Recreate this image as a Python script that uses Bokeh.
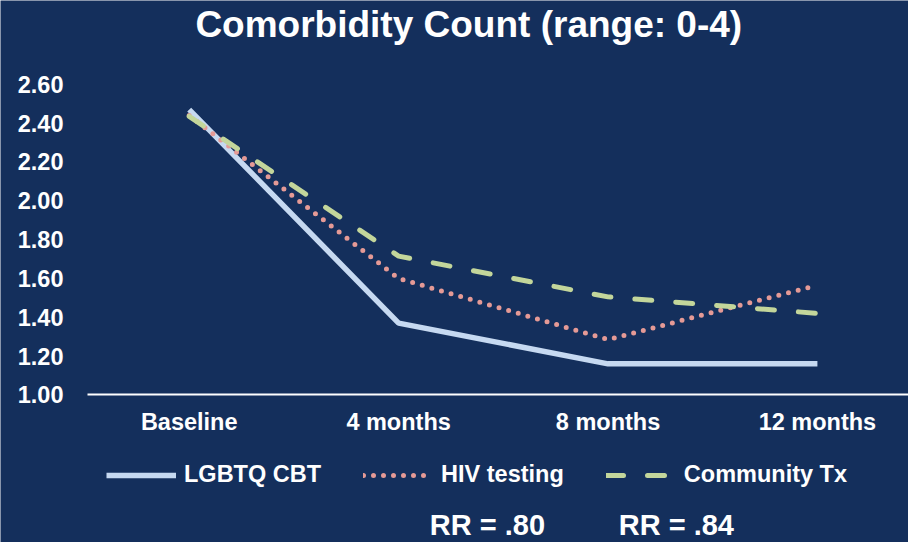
from bokeh.plotting import figure
from bokeh.models import (ColumnDataSource, FixedTicker, Legend, LegendItem,
                          Label, Range1d)
from bokeh.embed import file_html
from bokeh.resources import INLINE

categories = ["Baseline", "4 months", "8 months", "12 months"]
x_pos = [0, 1, 2, 3]
lgbtq_cbt = [2.47, 1.37, 1.16, 1.16]
hiv_testing = [2.44, 1.60, 1.285, 1.565]
community_tx = [2.435, 1.715, 1.505, 1.42]
y_ticks = [1.0, 1.2, 1.4, 1.6, 1.8, 2.0, 2.2, 2.4, 2.6]
rr_labels = ["RR = .80", "RR = .84"]
rr_x = [1.149, 2.051]

BG = "#142F5C"
FONT = "Liberation Sans"
X_START, X_AXIS_LEFT, X_END = -0.9012, -0.4857, 3.435

src = ColumnDataSource(dict(x=x_pos, a=lgbtq_cbt, b=hiv_testing, c=community_tx))

p = figure(width=908, height=542, output_backend="svg", toolbar_location=None,
           x_range=Range1d(X_START, X_END), y_range=Range1d(0.2396, 3.0319),
           min_border_left=0, min_border_right=0, min_border_top=0,
           min_border_bottom=0)
p.background_fill_color = BG
p.border_fill_color = BG
p.outline_line_color = None
p.grid.visible = False

r1 = p.line("x", "a", source=src, line_color="#C6D9F1", line_width=5.5)
r2 = p.line("x", "b", source=src, line_color="#E59A96", line_width=5,
            line_dash="0 10", line_cap="round")
r3 = p.line("x", "c", source=src, line_color="#C3D69B", line_width=5,
            line_dash="17 24", line_cap="round")

# y axis, drawn at the left edge of the plotting area
p.yaxis.fixed_location = X_AXIS_LEFT
p.yaxis.ticker = FixedTicker(ticks=y_ticks)
p.yaxis.major_label_overrides = {t: f"{t:.2f}" for t in y_ticks}
p.yaxis.axis_line_color = None
p.yaxis.major_tick_line_color = None
p.yaxis.minor_tick_line_color = None
p.yaxis.major_tick_out = 0
p.yaxis.major_tick_in = 0
p.yaxis.major_label_standoff = 24
p.yaxis.major_label_text_color = "white"
p.yaxis.major_label_text_font = FONT
p.yaxis.major_label_text_font_size = "23.5px"
p.yaxis.major_label_text_font_style = "bold"

# x axis, drawn at y = 1.0
p.xaxis.fixed_location = 1.0
p.xaxis.bounds = (X_AXIS_LEFT, X_END)
p.xaxis.ticker = FixedTicker(ticks=x_pos)
p.xaxis.major_label_overrides = {x: c for x, c in zip(x_pos, categories)}
p.xaxis.axis_line_color = "white"
p.xaxis.axis_line_width = 2
p.xaxis.major_tick_line_color = None
p.xaxis.minor_tick_line_color = None
p.xaxis.major_tick_out = 0
p.xaxis.major_tick_in = 0
p.xaxis.major_label_standoff = 14
p.xaxis.major_label_text_color = "white"
p.xaxis.major_label_text_font = FONT
p.xaxis.major_label_text_font_size = "23.5px"
p.xaxis.major_label_text_font_style = "bold"

legend = Legend(items=[LegendItem(label="LGBTQ CBT", renderers=[r1]),
                       LegendItem(label="HIV testing", renderers=[r2]),
                       LegendItem(label="Community Tx", renderers=[r3])],
                orientation="horizontal", location=(106, 54),
                background_fill_alpha=0, border_line_color=None,
                padding=0, margin=0, spacing=42, glyph_width=70,
                glyph_height=24, label_height=24, label_standoff=8,
                label_text_color="white", label_text_font=FONT,
                label_text_font_size="23.5px", label_text_font_style="bold")
p.add_layout(legend, "center")

p.add_layout(Label(x=1.335, y=2.91, text="Comorbidity Count (range: 0-4)",
                   text_color="white", text_font=FONT, text_font_size="37px",
                   text_font_style="bold", text_align="center",
                   text_baseline="alphabetic"))

for txt, xx in zip(rr_labels, rr_x):
    p.add_layout(Label(x=xx, y=0.33, text=txt, text_color="white",
                       text_font=FONT, text_font_size="29px",
                       text_font_style="bold", text_baseline="alphabetic"))

open("out.html", "w").write(file_html(p, INLINE))
